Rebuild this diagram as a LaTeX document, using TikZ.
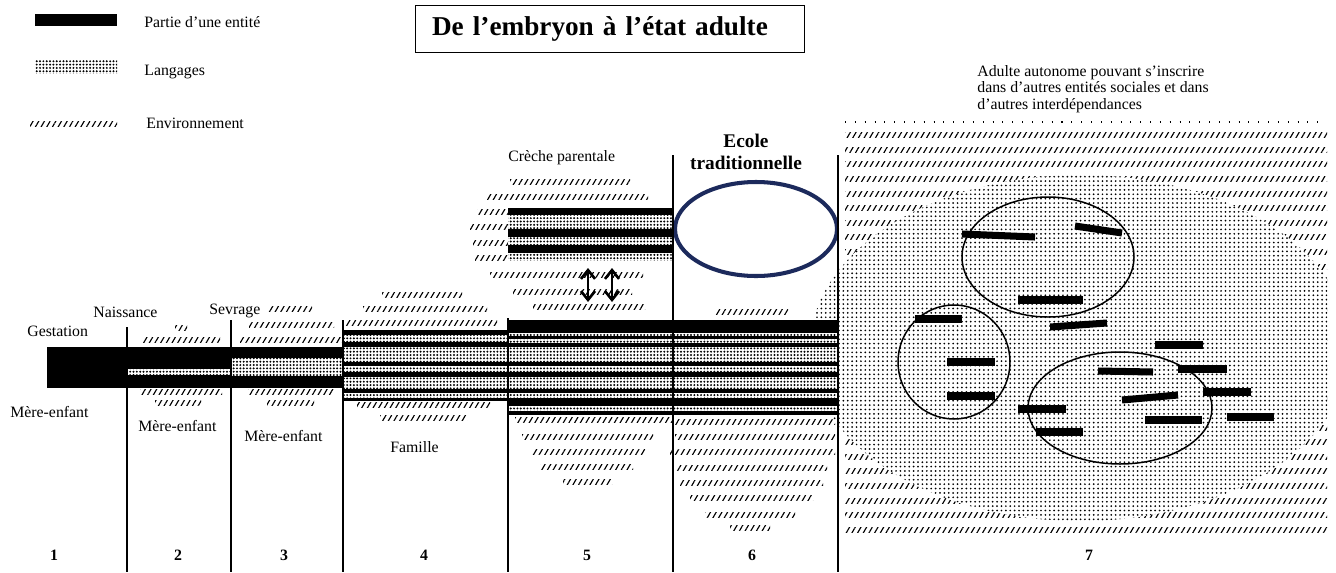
\documentclass[tikz,border=0pt]{standalone}
\usepackage{fontspec}
\setmainfont{Liberation Serif}
\usepackage{xcolor}
\usepackage{tikz}
\usetikzlibrary{arrows.meta, patterns.meta}
\definecolor{bleuecole}{RGB}{28,42,92}

\begin{document}
\begin{tikzpicture}[x=0.02cm, y=-0.02cm]
			\tikzstyle{every node} = [font = \fontsize{9}{10}\selectfont, inner sep = 0pt]
			\tikzstyle{entite} = [fill = black]
			\tikzstyle{langage} = [preaction = {fill = white}, pattern = {Dots[distance = 1.9pt, radius = 0.62pt]}]
			\tikzstyle{envrow} = [pattern = {Lines[angle = 60, distance = 2.8pt, line width = 0.65pt]}]
			\tikzstyle{nuage} = [preaction = {fill = white}, pattern = {Dots[distance = 2.5pt, radius = 0.55pt]}]
			\tikzstyle{etape} = [line width = 1.1pt]
			\tikzstyle{groupe} = [line width = 0.85pt]
			\tikzstyle{barre} = [line width = 4pt]
			\tikzstyle{ecole} = [draw = bleuecole, line width = 2.3pt]
			\tikzstyle{fleche} = [{Straight Barb[length = 5pt, width = 8pt]}-{Straight Barb[length = 5pt, width = 8pt]}, line width = 1.5pt]
				\useasboundingbox (0,0) rectangle (1336,572);
				\path[fill = white] (0,0) rectangle (1336,572);
				% environnement
				\foreach \xa/\xb/\y in {143/220/340, 175/187/328, 140/222/392, 155/201/403,
					268/312/309, 249/334/325, 240/342/340, 248/334/392, 267/314/403,
					382/462/295, 363/487/309, 345/497/323, 357/490/405, 380/467/418,
					510/630/182, 487/648/197, 477/508/212, 470/508/227, 473/508/243,
					475/508/258, 490/643/275, 513/632/292, 533/645/307, 715/788/312,
					515/672/420, 522/653/437, 532/645/452, 540/633/467, 563/612/482,
					675/835/422, 675/835/437, 670/835/452, 676/827/468, 680/823/483,
					690/813/498, 705/795/515, 730/770/528}
					\path[envrow] (\xa,\y-2.5) rectangle (\xb,\y+2.5);
				\foreach \k in {0,...,27}
					\path[envrow] (845,135+14.63*\k-2.5) rectangle (1327,135+14.63*\k+2.5);
				\path[draw, dash pattern = on 0.6pt off 5pt, line width = 0.6pt] (845,122) -- (1327,122);
				% adulte
				\begin{scope}
					\clip (800,120) rectangle (1327,560);
					\path[nuage] (1080,348) ellipse [x radius = 270, y radius = 173];
				\end{scope}
				\path[draw, groupe] (1048,257) ellipse [x radius = 86, y radius = 60];
				\path[draw, groupe] (954,362) ellipse [x radius = 56, y radius = 57];
				\path[draw, groupe] (1120,408) ellipse [x radius = 92, y radius = 56];
				\foreach \xa/\ya/\xb/\yb in {962/234/1035/237, 1075/226/1122/233, 1018/300/1083/300,
					1050/327/1107/323, 915/319/962/319, 947/362/995/362, 947/396/995/396,
					1155/345/1203/345, 1098/371/1153/372, 1178/369/1227/369, 1203/392/1251/392,
					1122/400/1178/395, 1018/409/1066/409, 1145/420/1202/420, 1227/417/1274/417,
					1036/432/1083/432}
					\path[draw, barre] (\xa,\ya) -- (\xb,\yb);
				% entites et langages
				\path[entite] (47,347) rectangle (343,388);
				\path[langage] (127,369) rectangle (231,375);
				\path[langage] (231,358) rectangle (343,376);
				\path[entite] (343,330) rectangle (508,401);
				\foreach \ya/\yb in {335/342, 347/362, 366/372, 377/389, 393/398}
					\path[langage] (343,\ya) rectangle (508,\yb);
				\path[entite] (508,320) rectangle (838,415);
				\foreach \ya/\yb in {333/336, 339/343, 347/362, 366/372, 377/389, 393/398, 406/411}
					\path[langage] (508,\ya) rectangle (838,\yb);
				\path[entite] (508,208) rectangle (673,260);
				\foreach \ya/\yb in {215/229, 237/245, 253/260}
					\path[langage] (508,\ya) rectangle (673,\yb);
				\path[ecole] (756,229) ellipse [x radius = 81, y radius = 47];
				% etapes
				\foreach \x/\yt in {127/327, 231/320, 343/320, 508/318, 673/155, 838/155}
					\path[draw, etape] (\x,\yt) -- (\x,572);
				\coordinate (haut1) at (588,268);
				\coordinate (bas1) at (588,302);
				\coordinate (haut2) at (612,268);
				\coordinate (bas2) at (612,302);
				\path[draw, fleche] (haut1) -- (bas1);
				\path[draw, fleche] (haut2) -- (bas2);
				% legende
				\path[entite] (35,14) rectangle (117,26);
				\path[langage] (35,60) rectangle (117,73);
				\path[envrow] (30,121) rectangle (117,126);
				\node (legentite) [anchor = base west] at (144,27) {Partie d’une entité};
				\node (leglangage) [anchor = base west] at (144,75) {Langages};
				\node (legenv) [anchor = base west] at (146,128) {Environnement};
				\node (titre) [draw, line width = 1pt, minimum width = 7.78cm, minimum height = 0.94cm,
					text width = 7.12cm, inner xsep = 0.33cm, align = left,
					font = \bfseries\fontsize{15.5}{18}\selectfont] at (610,29) {De l’embryon à l’état adulte};
				% textes
				\node (gestation) [anchor = base west] at (27,336) {Gestation};
				\node (naissance) [anchor = base west] at (93,317) {Naissance};
				\node (sevrage) [anchor = base west] at (209,314) {Sevrage};
				\node (mereenfant1) [anchor = base west] at (10,417) {Mère-enfant};
				\node (mereenfant2) [anchor = base west] at (138,431) {Mère-enfant};
				\node (mereenfant3) [anchor = base west] at (244,441) {Mère-enfant};
				\node (famille) [anchor = base west] at (390,452) {Famille};
				\node (creche) [anchor = base west] at (508,161) {Crèche parentale};
				\node (ecole) [anchor = north, align = center,
					font = \bfseries\fontsize{11}{12.5}\selectfont] at (746,134) {Ecole\\traditionnelle};
				\node (adulte) [anchor = north west, align = left,
					font = \fontsize{9}{9.4}\selectfont] at (977,65)
					{Adulte autonome pouvant s’inscrire\\dans d’autres entités sociales et dans\\d’autres interdépendances};
				\foreach \x [count = \i] in {54, 178, 284, 424, 587, 752, 1089}
					\node (num\i) [anchor = base, font = \bfseries\fontsize{9}{10}\selectfont] at (\x,560) {\i};
			\end{tikzpicture}
\end{document}
